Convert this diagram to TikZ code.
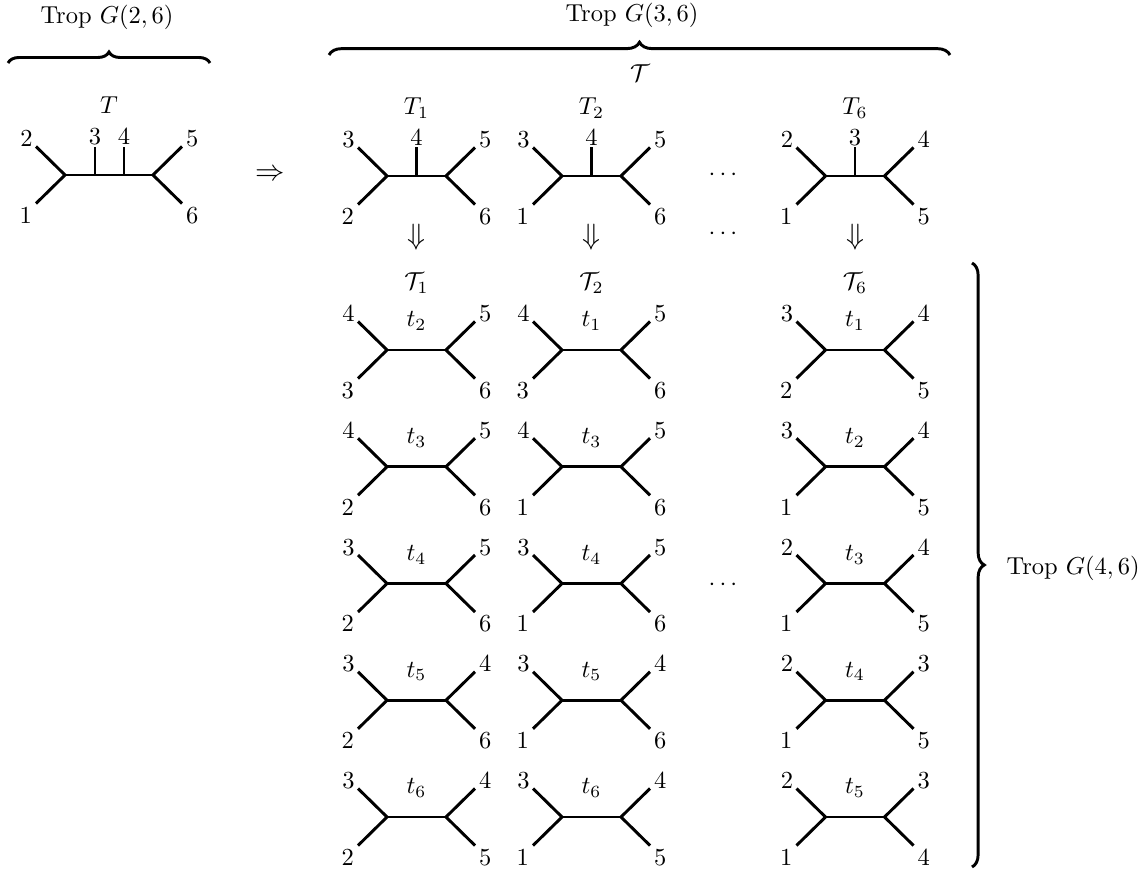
\documentclass[tikz,border=0pt]{standalone}
\usetikzlibrary{decorations.pathreplacing}

\tikzset{
	treeline/.style={line width=1.2pt},
	ullab/.style={anchor=base east,inner sep=1.2pt},
	lllab/.style={anchor=north east,inner sep=1.5pt},
	urlab/.style={anchor=base west,inner sep=1.5pt},
	lrlab/.style={anchor=north west,inner sep=1.5pt},
	toplab/.style={anchor=south,inner sep=0.5pt},
	bigarrow/.style={font=\large},
	bracelong/.style={decorate,line width=1.2pt,decoration={brace,amplitude=#1}},
}

% quartet tree: name, x, y, upper left, lower left, upper right, lower right, edge label
\newcommand{\quartet}[8]{%
	\begin{scope}[shift={(#2,#3)}]
		\coordinate (#1l) at (-29.5,0);
		\coordinate (#1r) at (29.5,0);
		\coordinate (#1a) at (-58.5,-28.5);
		\coordinate (#1b) at (-58.5,28.5);
		\coordinate (#1c) at (58.5,-28.5);
		\coordinate (#1d) at (58.5,28.5);
		\node[ullab] (#1A) at (#1a) {$#4$};
		\node[lllab] (#1B) at (#1b) {$#5$};
		\node[urlab] (#1C) at (#1c) {$#6$};
		\node[lrlab] (#1D) at (#1d) {$#7$};
		\draw[treeline] (#1a) -- (#1l) -- (#1b);
		\draw[treeline] (#1c) -- (#1r) -- (#1d);
		\draw[treeline] (#1l) -- node[above=4pt] (#1t) {$t_{#8}$} (#1r);
	\end{scope}}

% tree with one middle leaf: name, x, y, upper left, lower left, middle, upper right, lower right
\newcommand{\fivetree}[8]{%
	\begin{scope}[shift={(#2,#3)}]
		\coordinate (#1l) at (-29.5,0);
		\coordinate (#1m) at (0,0);
		\coordinate (#1r) at (29.5,0);
		\coordinate (#1a) at (-58.5,-28.5);
		\coordinate (#1b) at (-58.5,28.5);
		\coordinate (#1e) at (0,-29);
		\coordinate (#1c) at (58.5,-28.5);
		\coordinate (#1d) at (58.5,28.5);
		\node[ullab] (#1A) at (#1a) {$#4$};
		\node[lllab] (#1B) at (#1b) {$#5$};
		\node[toplab] (#1E) at (#1e) {$#6$};
		\node[urlab] (#1C) at (#1c) {$#7$};
		\node[lrlab] (#1D) at (#1d) {$#8$};
		\draw[treeline] (#1a) -- (#1l) -- (#1b);
		\draw[treeline] (#1c) -- (#1r) -- (#1d);
		\draw[treeline] (#1l) -- (#1r);
		\draw[treeline] (#1m) -- (#1e);
	\end{scope}}

\begin{document}
\begin{tikzpicture}[x=0.4082pt,y=-0.4082pt]
	\useasboundingbox (0,0) rectangle (1147,870);

	% Trop G(2,6)
	\node (g26) at (107,17) {Trop $G(2,6)$};
	\coordinate (b1s) at (8,63);
	\coordinate (b1e) at (210,63);
	\draw[bracelong=4.5pt] (b1s) -- (b1e);
	\node (tT) at (109,105) {$T$};

	\coordinate (Tl) at (65,175);
	\coordinate (Tp) at (95,175);
	\coordinate (Tq) at (124,175);
	\coordinate (Tr) at (153,175);
	\coordinate (Ta) at (36,146.5);
	\coordinate (Tb) at (36,203.5);
	\coordinate (Tc) at (182,146.5);
	\coordinate (Td) at (182,203.5);
	\coordinate (Tu) at (95,146.5);
	\coordinate (Tv) at (124,146.5);
	\node[ullab] (TA) at (Ta) {$2$};
	\node[lllab] (TB) at (Tb) {$1$};
	\node[toplab] (TU) at (Tu) {$3$};
	\node[toplab] (TV) at (Tv) {$4$};
	\node[urlab] (TC) at (Tc) {$5$};
	\node[lrlab] (TD) at (Td) {$6$};
	\draw[treeline] (Ta) -- (Tl) -- (Tb);
	\draw[treeline] (Tc) -- (Tr) -- (Td);
	\draw[treeline] (Tl) -- (Tr);
	\draw[treeline] (Tp) -- (Tu);
	\draw[treeline] (Tq) -- (Tv);

	\node[bigarrow] (impl) at (270,175) {$\Rightarrow$};

	% Trop G(3,6)
	\node (g36) at (632,15) {Trop $G(3,6)$};
	\coordinate (b2s) at (329,55);
	\coordinate (b2e) at (950,55);
	\draw[bracelong=5.2pt] (b2s) -- (b2e);
	\node (calT) at (640,73) {$\mathcal{T}$};

	\node (tT1) at (416.5,108) {$T_1$};
	\node (tT2) at (591.5,108) {$T_2$};
	\node (tT6) at (855,108) {$T_6$};
	\fivetree{u1}{416.5}{176}{3}{2}{4}{5}{6}
	\fivetree{u2}{591.5}{176}{3}{1}{4}{5}{6}
	\fivetree{u6}{855}{176}{2}{1}{3}{4}{5}
	\node (dots1) at (723,175) {$\cdots$};

	\node[bigarrow] (d1) at (416.5,237) {$\Downarrow$};
	\node[bigarrow] (d2) at (591.5,237) {$\Downarrow$};
	\node[bigarrow] (d6) at (855,237) {$\Downarrow$};
	\node (dots2) at (723,234) {$\cdots$};

	% Trop G(4,6)
	\node (tc1) at (416.5,283) {$\mathcal{T}_1$};
	\node (tc2) at (591.5,283) {$\mathcal{T}_2$};
	\node (tc6) at (855,283) {$\mathcal{T}_6$};

	\quartet{p1}{416.5}{350}{4}{3}{5}{6}{2}
	\quartet{p2}{416.5}{466.75}{4}{2}{5}{6}{3}
	\quartet{p3}{416.5}{583.5}{3}{2}{5}{6}{4}
	\quartet{p4}{416.5}{700.25}{3}{2}{4}{6}{5}
	\quartet{p5}{416.5}{817}{3}{2}{4}{5}{6}

	\quartet{q1}{591.5}{350}{4}{3}{5}{6}{1}
	\quartet{q2}{591.5}{466.75}{4}{1}{5}{6}{3}
	\quartet{q3}{591.5}{583.5}{3}{1}{5}{6}{4}
	\quartet{q4}{591.5}{700.25}{3}{1}{4}{6}{5}
	\quartet{q5}{591.5}{817}{3}{1}{4}{5}{6}

	\quartet{r1}{855}{350}{3}{2}{4}{5}{1}
	\quartet{r2}{855}{466.75}{3}{1}{4}{5}{2}
	\quartet{r3}{855}{583.5}{2}{1}{4}{5}{3}
	\quartet{r4}{855}{700.25}{2}{1}{3}{5}{4}
	\quartet{r5}{855}{817}{2}{1}{3}{4}{5}

	\node (dots3) at (723,585) {$\cdots$};

	\coordinate (b3s) at (972,263);
	\coordinate (b3e) at (972,867);
	\draw[bracelong=5pt] (b3s) -- (b3e);
	\node[anchor=west] (g46) at (998,568) {Trop $G(4,6)$};
\end{tikzpicture}
\end{document}
